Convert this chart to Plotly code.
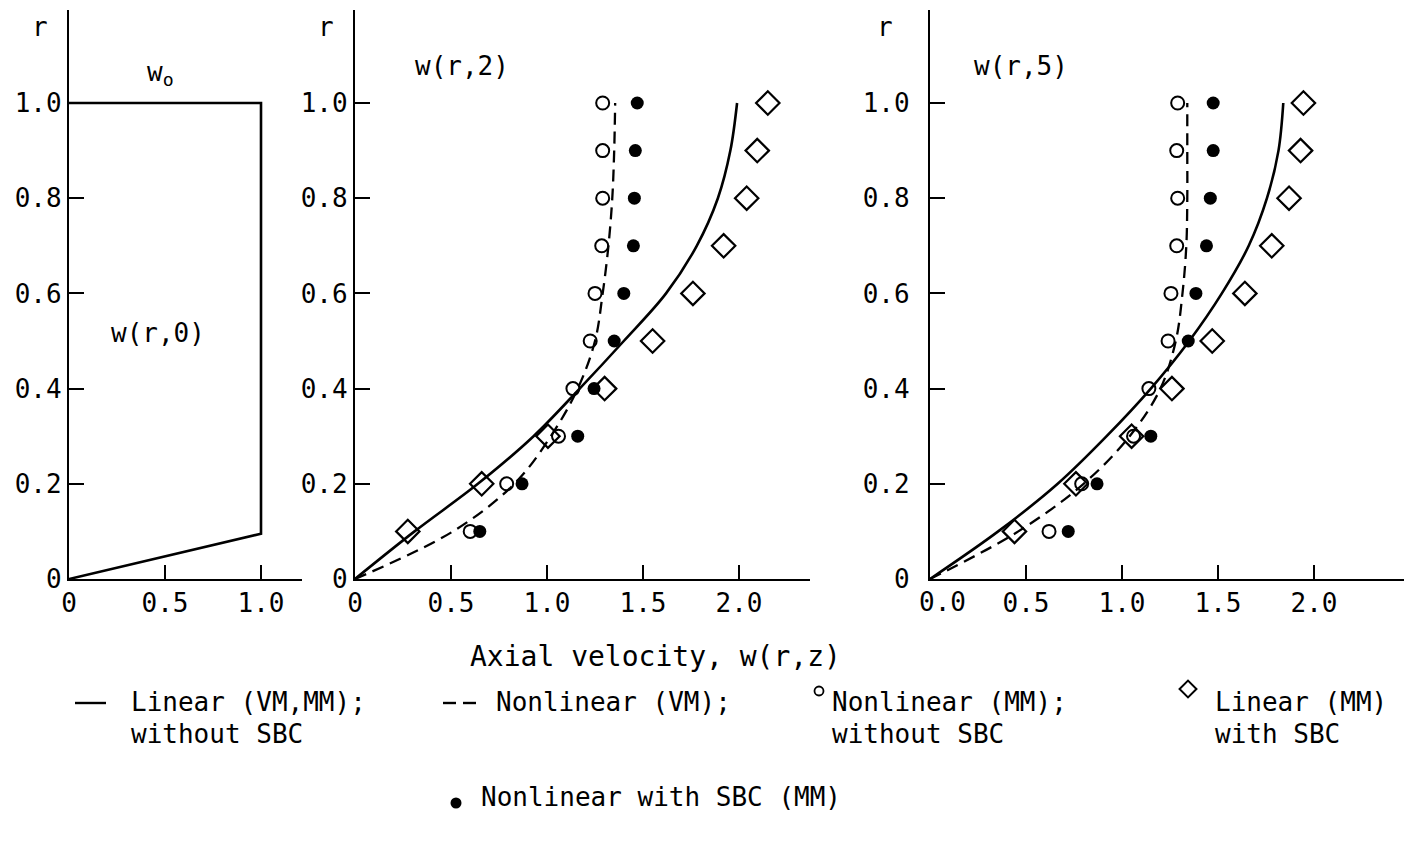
import plotly.graph_objects as go

W, H = 1412, 843
OFF = 8  # page body margin in the browser
FONT = "DejaVu Sans Mono, DejaVu Sans"

# ---------------- data ----------------
r_curve = [0.0, 0.1, 0.2, 0.3, 0.4, 0.5, 0.6, 0.7, 0.8, 0.9, 1.0]
r_pts = [0.1, 0.2, 0.3, 0.4, 0.5, 0.6, 0.7, 0.8, 0.9, 1.0]

# inlet profile w(r,0)
inlet_w = [0.0, 1.0, 1.0, 0.0]
inlet_r = [0.0, 0.095, 1.0, 1.0]

# z = 2
z2_linear = [0.0, 0.31, 0.64, 0.93, 1.17, 1.40, 1.62, 1.78, 1.89, 1.955, 1.99]
z2_nonlin_vm = [0.0, 0.51, 0.83, 1.02, 1.16, 1.25, 1.29, 1.32, 1.34, 1.35, 1.355]
z2_nonlin_mm = [0.60, 0.79, 1.06, 1.135, 1.225, 1.25, 1.285, 1.29, 1.29, 1.29]
z2_linear_sbc = [0.275, 0.66, 1.005, 1.30, 1.55, 1.76, 1.92, 2.04, 2.095, 2.15]
z2_nonlin_sbc = [0.65, 0.87, 1.16, 1.245, 1.35, 1.40, 1.45, 1.455, 1.46, 1.47]

# z = 5
z5_linear = [0.0, 0.355, 0.665, 0.92, 1.15, 1.35, 1.52, 1.66, 1.755, 1.815, 1.84]
z5_nonlin_vm = [0.0, 0.46, 0.80, 1.04, 1.20, 1.28, 1.315, 1.335, 1.34, 1.34, 1.34]
z5_nonlin_mm = [0.62, 0.79, 1.06, 1.14, 1.24, 1.255, 1.285, 1.29, 1.285, 1.29]
z5_linear_sbc = [0.44, 0.76, 1.05, 1.26, 1.47, 1.64, 1.78, 1.87, 1.93, 1.945]
z5_nonlin_sbc = [0.72, 0.87, 1.15, None, 1.345, 1.385, 1.44, 1.46, 1.475, 1.475]

r_ticks = [0, 0.2, 0.4, 0.6, 0.8, 1.0]
r_ticktext = ["0", "0.2", "0.4", "0.6", "0.8", "1.0"]
p1_xticks = [0, 0.5, 1.0]
p1_xticktext = ["0", "0.5", "1.0"]
p2_xticks = [0, 0.5, 1.0, 1.5, 2.0]
p2_xticktext = ["0", "0.5", "1.0", "1.5", "2.0"]
p3_xticks = [0.5, 1.0, 1.5, 2.0]
p3_xticktext = ["0.5", "1.0", "1.5", "2.0"]
p3_zero_label = "0.0"   # placed as a note, slightly right of the origin as in the original

# ---------------- layout geometry (page pixels) ----------------
Y0, YTOP = 579, 10          # r = 0 pixel row, top of axes
PX_PER_R = 476.0
PX_PER_W = 192.0
panels = [  # (left px, right px)
    (69, 302),
    (355, 810),
    (930, 1411),
]
ylabel_standoff = [0, 0, 13]

def fx(px):
    return (px - OFF) / W

def fy(py):
    return 1 - (py - OFF) / H

fig = go.Figure()

LINE = dict(color="black", width=2.6)
DASH = dict(color="black", width=2.3, dash="12px,7px")

def add_curves(xa, ya, lin, nvm, nmm, lsbc, nsbc):
    fig.add_trace(go.Scatter(x=lin, y=r_curve, mode="lines", line=dict(LINE, shape="spline"),
                             xaxis=xa, yaxis=ya, showlegend=False, hoverinfo="skip"))
    fig.add_trace(go.Scatter(x=nvm, y=r_curve, mode="lines", line=dict(DASH, shape="spline"),
                             xaxis=xa, yaxis=ya, showlegend=False, hoverinfo="skip"))
    fig.add_trace(go.Scatter(x=nmm, y=r_pts, mode="markers",
                             marker=dict(symbol="circle-open", size=13, color="black",
                                         line=dict(width=2, color="black")),
                             xaxis=xa, yaxis=ya, showlegend=False))
    fig.add_trace(go.Scatter(x=lsbc, y=r_pts, mode="markers",
                             marker=dict(symbol="diamond-open", size=18, color="black",
                                         line=dict(width=2.2, color="black")),
                             xaxis=xa, yaxis=ya, showlegend=False))
    fig.add_trace(go.Scatter(x=nsbc, y=r_pts, mode="markers",
                             marker=dict(symbol="circle", size=13, color="black",
                                         line=dict(width=0)),
                             xaxis=xa, yaxis=ya, showlegend=False))

# panel 1
fig.add_trace(go.Scatter(x=inlet_w, y=inlet_r, mode="lines", line=LINE,
                         xaxis="x", yaxis="y", showlegend=False, hoverinfo="skip"))
add_curves("x2", "y2", z2_linear, z2_nonlin_vm, z2_nonlin_mm, z2_linear_sbc, z2_nonlin_sbc)
add_curves("x3", "y3", z5_linear, z5_nonlin_vm, z5_nonlin_mm, z5_linear_sbc, z5_nonlin_sbc)

# legend glyphs on a full-page pixel overlay (page pixel coordinates)
OV = dict(xaxis="x4", yaxis="y4", showlegend=False, hoverinfo="skip")
fig.add_trace(go.Scatter(x=[75, 106], y=[703, 703], mode="lines", line=dict(color="black", width=2.4), **OV))
fig.add_trace(go.Scatter(x=[443, 456], y=[703, 703], mode="lines", line=dict(color="black", width=2.4), **OV))
fig.add_trace(go.Scatter(x=[463, 476], y=[703, 703], mode="lines", line=dict(color="black", width=2.4), **OV))
fig.add_trace(go.Scatter(x=[819], y=[691], mode="markers",
                         marker=dict(symbol="circle-open", size=9, color="black", line=dict(width=1.8)), **OV))
fig.add_trace(go.Scatter(x=[1188], y=[689], mode="markers",
                         marker=dict(symbol="diamond-open", size=13, color="black", line=dict(width=2)), **OV))
fig.add_trace(go.Scatter(x=[456], y=[803], mode="markers",
                         marker=dict(symbol="circle", size=11, color="black"), **OV))

yr = [0, (Y0 - YTOP) / PX_PER_R]
ydom = [fy(Y0), fy(YTOP)]

def xaxis_cfg(i, tv, tt):
    l, r = panels[i]
    return dict(domain=[fx(l), min(1.0, fx(r))], range=[0, (r - l) / PX_PER_W],
                anchor=f"y{'' if i == 0 else i + 1}",
                showline=True, linecolor="black", linewidth=2.2, mirror=False, automargin=False,
                ticks="inside", ticklen=14, tickwidth=2, tickcolor="black",
                tickvals=tv, ticktext=tt, showgrid=False, zeroline=False,
                tickfont=dict(family=FONT, size=26, color="black"), fixedrange=True)

def yaxis_cfg(i):
    return dict(domain=ydom, range=yr, anchor=f"x{'' if i == 0 else i + 1}",
                showline=True, linecolor="black", linewidth=2.2, automargin=False,
                ticks="inside", ticklen=15, tickwidth=2, tickcolor="black",
                ticklabelstandoff=ylabel_standoff[i],
                tickvals=r_ticks, ticktext=r_ticktext, showgrid=False, zeroline=False,
                tickfont=dict(family=FONT, size=26, color="black"), fixedrange=True)

fig.update_layout(
    width=W, height=H, margin=dict(l=0, r=0, t=0, b=0, pad=0),
    paper_bgcolor="white", plot_bgcolor="rgba(0,0,0,0)", showlegend=False,
    xaxis=xaxis_cfg(0, p1_xticks, p1_xticktext), yaxis=yaxis_cfg(0),
    xaxis2=xaxis_cfg(1, p2_xticks, p2_xticktext), yaxis2=yaxis_cfg(1),
    xaxis3=xaxis_cfg(2, p3_xticks, p3_xticktext), yaxis3=yaxis_cfg(2),
    xaxis4=dict(domain=[0, 1], range=[OFF, W + OFF], visible=False, anchor="y4",
                fixedrange=True, automargin=False),
    yaxis4=dict(domain=[0, 1], range=[H + OFF, OFF], visible=False, anchor="x4",
                fixedrange=True, automargin=False),
)

def note(text, px, py, anchor="center", size=26):
    fig.add_annotation(text=text, x=fx(px), y=fy(py), xref="paper", yref="paper",
                       xanchor=anchor, yanchor="middle", showarrow=False,
                       font=dict(family=FONT, size=size, color="black"))

note(p3_zero_label, 942, 602)
note("r", 40, 27)
note("r", 326, 27)
note("r", 885, 27)
note("w<sub>o</sub>", 160, 74)
note("w(r,0)", 158, 333)
note("w(r,2)", 462, 66)
note("w(r,5)", 1021, 66)
note("Axial velocity, w(r,z)", 655, 656, size=28)
note("Linear (VM,MM);", 129, 702, "left", 26)
note("without SBC", 129, 734, "left", 26)
note("Nonlinear (VM);", 494, 702, "left", 26)
note("Nonlinear (MM);", 830, 702, "left", 26)
note("without SBC", 830, 734, "left", 26)
note("Linear (MM)", 1213, 702, "left", 26)
note("with SBC", 1213, 734, "left", 26)
note("Nonlinear with SBC (MM)", 479, 797, "left", 26)

fig.write_html("out.html")
